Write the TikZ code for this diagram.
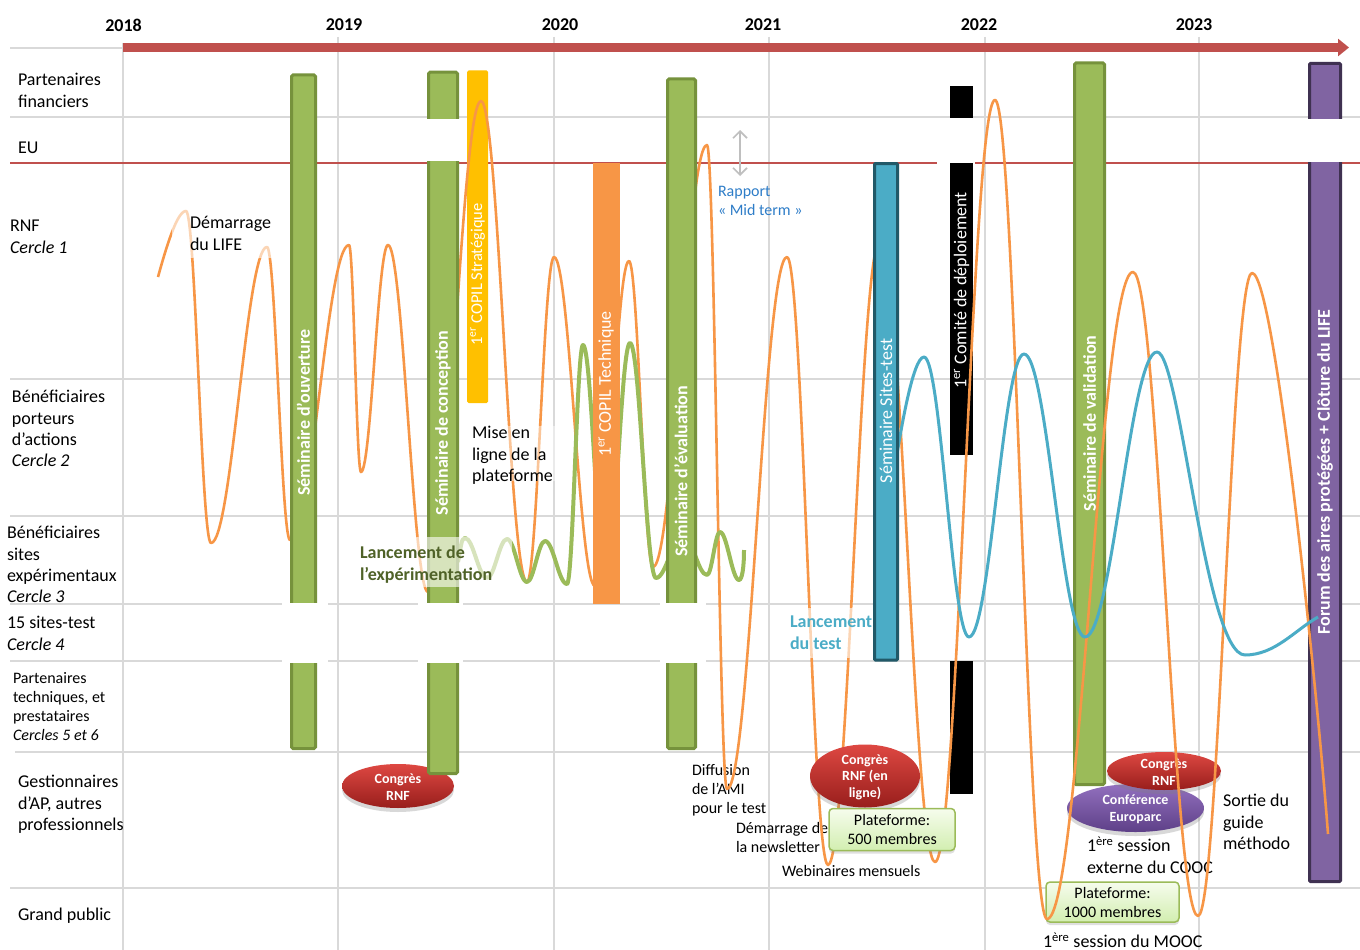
\documentclass[tikz,border=0pt]{standalone}
\usepackage{fontspec}
\setmainfont{Carlito}
\usetikzlibrary{arrows.meta,shadows}

\definecolor{gridgray}{RGB}{217,217,217}
\definecolor{axisred}{RGB}{192,80,77}
\definecolor{curveorange}{RGB}{247,150,70}
\definecolor{leafgreen}{RGB}{155,187,89}
\definecolor{leafdark}{RGB}{118,146,60}
\definecolor{goldbar}{RGB}{255,192,0}
\definecolor{tealbar}{RGB}{75,172,198}
\definecolor{tealdark}{RGB}{33,89,104}
\definecolor{violetbar}{RGB}{128,100,162}
\definecolor{violetdark}{RGB}{63,49,81}
\definecolor{midblue}{RGB}{46,125,200}
\definecolor{olivetext}{RGB}{79,98,40}
\definecolor{arrowgray}{RGB}{191,191,191}
\definecolor{balltop}{RGB}{222,72,66}
\definecolor{ballbottom}{RGB}{152,30,28}
\definecolor{violettop}{RGB}{146,112,190}
\definecolor{violetbottom}{RGB}{94,64,136}
\definecolor{platetop}{RGB}{246,252,237}
\definecolor{platebottom}{RGB}{210,238,176}

\tikzset{
  gridline/.style={draw=gridgray, line width=2pt},
  euline/.style={draw=axisred, line width=1.5pt},
  lbl/.style={anchor=north west, inner sep=0pt, outer sep=0pt, align=left},
  lblL/.style={font=\fontsize{18}{21.4}\selectfont},
  lblLB/.style={font=\fontsize{18}{21.4}\selectfont\bfseries},
  lblS/.style={font=\fontsize{16}{19.2}\selectfont},
  yearlbl/.style={font=\fontsize{18}{21}\selectfont\bfseries, inner sep=0pt},
  greenbar/.style={fill=leafgreen, draw=leafdark, line width=3pt, rounded corners=1.5pt},
  tealbox/.style={fill=tealbar, draw=tealdark, line width=3pt, rounded corners=1pt},
  violetbox/.style={fill=violetbar, draw=violetdark, line width=3pt, rounded corners=1pt},
  gapfill/.style={fill=white},
  haze/.style={fill=white, fill opacity=0.6},
  bartext/.style={rotate=90, text=white, inner sep=0pt, font=\fontsize{18}{21}\selectfont},
  bartextB/.style={rotate=90, text=white, inner sep=0pt, font=\fontsize{18}{21}\selectfont\bfseries},
  orangeline/.style={draw=curveorange, line width=2.6pt, line join=round},
  greenline/.style={draw=leafgreen, line width=4pt, line join=round},
  tealline/.style={draw=tealbar, line width=3pt, line join=round},
  redball/.style={top color=balltop, bottom color=ballbottom,
    drop shadow={shadow xshift=0pt, shadow yshift=-4pt, opacity=0.3}},
  violetball/.style={top color=violettop, bottom color=violetbottom,
    drop shadow={shadow xshift=0pt, shadow yshift=-4pt, opacity=0.3}},
  balltext/.style={text=white, font=\fontsize{14}{16.5}\selectfont\bfseries, align=center, inner sep=0pt},
  platebox/.style={draw=leafgreen, line width=1.5pt, rounded corners=4pt,
    top color=platetop, bottom color=platebottom, align=center, inner sep=0pt,
    font=\fontsize{16}{19}\selectfont,
    drop shadow={shadow xshift=0pt, shadow yshift=-3pt, opacity=0.25}},
  midarrow/.style={draw=arrowgray, line width=1.6pt,
    {Straight Barb[length=7pt,width=14pt]}-{Straight Barb[length=7pt,width=14pt]}},
}

\begin{document}
\begin{tikzpicture}[x=1pt,y=-1pt]
\useasboundingbox (0,0) rectangle (1360,950);
\fill[white] (0,0) rectangle (1360,950);

% ---- grid ----
\draw[gridline] (10,48) -- (123,48);
\foreach \yy in {117,379,516,604,661,888} \draw[gridline] (10,\yy) -- (1360,\yy);
\draw[gridline] (15,752) -- (1360,752);
\draw[gridline] (123,43) -- (123,950);
\foreach \xx in {338,554,769,985,1199} \draw[gridline] (\xx,37) -- (\xx,950);
\draw[euline] (10,163) -- (1360,163);

% ---- time axis ----
\coordinate (tlStart) at (123,47.5);
\coordinate (tlEnd) at (1349,47.5);
\draw[axisred, line width=9pt, -{Triangle[length=11pt,width=17pt]}] (tlStart) -- (tlEnd);

\node[yearlbl] (y2018) at (123.5,25) {2018};
\node[yearlbl] (y2019) at (344,25) {2019};
\node[yearlbl] (y2020) at (560,25) {2020};
\node[yearlbl] (y2021) at (763,25) {2021};
\node[yearlbl] (y2022) at (979,25) {2022};
\node[yearlbl] (y2023) at (1194,25) {2023};

% ---- row headings ----
\node[lbl,lblL] (rowFin) at (18,70.7) {\strut Partenaires\\financiers};
\node[lbl,lblL] (rowEU) at (18,138.7) {\strut EU};
\node[lbl,lblL] (rowRNF) at (10,216.7) {\strut RNF\\\textit{Cercle 1}};
\node[lbl,lblL] (rowC2) at (12,387.7) {\strut Bénéficiaires\\porteurs\\d’actions\\\textit{Cercle 2}};
\node[lbl,lblL] (rowC3) at (7,523.7) {\strut Bénéficiaires\\sites\\expérimentaux\\\textit{Cercle 3}};
\node[lbl,lblL] (rowC4) at (7,613.7) {\strut 15 sites-test\\\textit{Cercle 4}};
\node[lbl,lblS] (rowC56) at (13,669.8) {\strut Partenaires\\techniques, et\\prestataires\\\textit{Cercles 5 et 6}};
\node[lbl,lblL] (rowAP) at (18,772.7) {\strut Gestionnaires\\d’AP, autres\\professionnels};
\node[lbl,lblL] (rowGP) at (18,905.7) {\strut Grand public};

% ---- bars standing behind the curves ----
\fill[goldbar, rounded corners=1.5pt] (467,70.5) rectangle (488,403);
\node[bartext, font=\fontsize{16.5}{20}\selectfont] (tStrat) at (477.5,274.5) {1\textsuperscript{er} COPIL Stratégique};

\fill[gapfill] (937,119) rectangle (975,164.5);
\fill[black] (950,86) rectangle (973,118);
\fill[black] (950,163) rectangle (973,455);
\fill[black] (950,661) rectangle (973,794);
\node[bartext] (tDeploy) at (961.5,290.5) {1\textsuperscript{er} Comité de déploiement};

\draw[greenbar] (1074.5,63) rectangle (1104.5,784.5);
\node[bartextB] (tValid) at (1089.5,423.5) {Séminaire de validation};

\draw[violetbox] (1309.5,63.5) rectangle (1340.5,881.5);
\fill[gapfill] (1305,118.5) rectangle (1345,161.5);
\node[bartextB] (tForum) at (1325,472) {Forum des aires protégées + Clôture du LIFE};

% ---- ellipses and boxes lying under the curves ----
\path[violetball] (1135.5,808) ellipse [x radius=68.5, y radius=24];
\node[balltext] (europarc) at (1135.5,809) {Conférence\\Europarc};
\path[redball] (1164,771) ellipse [x radius=57, y radius=19];
\node[balltext] (cg3) at (1164,772) {Congrès\\RNF};
\node[platebox, minimum width=133pt, minimum height=40pt] (pf1000) at (1112.5,902) {Plateforme:\\1000 membres};

% ---- event captions ----
\node[lbl,lblS,text=midblue] (midterm) at (718,182.8) {\strut Rapport\\« Mid term »};
\node[lbl,lblS] (ami) at (692,761.8) {\strut Diffusion\\de l’AMI\\pour le test};
\node[lbl,lblS] (news) at (736,819.8) {\strut Démarrage de\\la newsletter};
\node[lbl,lblS] (webi) at (782,862.8) {\strut Webinaires mensuels};
\node[lbl,lblL] (cooc) at (1087,836.7) {\strut 1\textsuperscript{ère} session\\externe du COOC};
\node[lbl,lblL] (guide) at (1223,791.7) {\strut Sortie du\\guide\\méthodo};
\node[lbl,lblL] (mooc) at (1043,932.7) {\strut 1\textsuperscript{ère} session du MOOC};

% ---- engagement curves ----
\draw[orangeline] (158,277) .. controls (166,248) and (177,211) .. (186,211)
  .. controls +(9.5,0) and +(-9.5,0) .. (211,543)
  .. controls +(21,0) and +(-21,0) .. (267,247)
  .. controls +(8.4,0) and +(-8.4,0) .. (290,540)
  .. controls +(22,0) and +(-22,0) .. (349,245)
  .. controls +(4.6,0) and +(-4.6,0) .. (361,472)
  .. controls +(10,0) and +(-10,0) .. (388,245)
  .. controls +(15,0) and +(-15,0) .. (428,592)
  .. controls +(20,0) and +(-20,0) .. (481,101)
  .. controls +(17.5,0) and +(-17.5,0) .. (527,582)
  .. controls +(10,0) and +(-10,0) .. (554,257)
  .. controls +(15.6,0) and +(-15.6,0) .. (595,586)
  .. controls +(13,0) and +(-13,0) .. (629,261)
  .. controls +(9,0) and +(-9,0) .. (653,567)
  .. controls +(20.5,0) and +(-20.5,0) .. (707,145)
  .. controls +(7.6,0) and +(-7.6,0) .. (727,789)
  .. controls +(23,0) and +(-23,0) .. (787,257)
  .. controls +(15.6,0) and +(-15.6,0) .. (828,865)
  .. controls +(19.8,0) and +(-19.8,0) .. (880,240)
  .. controls +(21,0) and +(-21,0) .. (935,862)
  .. controls +(23,0) and +(-23,0) .. (995,100)
  .. controls +(20,0) and +(-20,0) .. (1047,919)
  .. controls +(33,0) and +(-33,0) .. (1133,272)
  .. controls +(25,0) and +(-25,0) .. (1198,916)
  .. controls +(20.5,0) and +(-20.5,0) .. (1252,273)
  .. controls (1275,273) and (1318,700) .. (1328,834);

\draw[greenline] (458,562) .. controls (461,548) and (461,538) .. (465,538)
  .. controls +(8.4,0) and +(-8.4,0) .. (487,578)
  .. controls +(7.6,0) and +(-7.6,0) .. (507,539)
  .. controls +(7.6,0) and +(-7.6,0) .. (527,582)
  .. controls +(6.8,0) and +(-6.8,0) .. (545,541)
  .. controls +(8.4,0) and +(-8.4,0) .. (567,584)
  .. controls +(6,0) and +(-6,0) .. (583,345)
  .. controls +(8.7,0) and +(-8.7,0) .. (606,580)
  .. controls +(9,0) and +(-9,0) .. (630,343)
  .. controls +(10,0) and +(-10,0) .. (656,578)
  .. controls +(10,0) and +(-10,0) .. (683,535)
  .. controls +(9,0) and +(-9,0) .. (707,575)
  .. controls +(5,0) and +(-5,0) .. (720,532)
  .. controls +(7,0) and +(-7,0) .. (739,580)
  .. controls (742,580) and (744,568) .. (744,550);

\draw[tealline] (890,500) .. controls (900,430) and (913,357) .. (924,357)
  .. controls +(17,0) and +(-17,0) .. (969,637)
  .. controls +(21,0) and +(-21,0) .. (1024,354)
  .. controls +(23,0) and +(-23,0) .. (1085,637)
  .. controls +(27,0) and +(-27,0) .. (1157,352)
  .. controls +(23,0) and +(-40,0) .. (1245,655)
  .. controls +(30,0) and (1295,630) .. (1318,617);

% ---- bars standing in front of the curves ----
\path[redball] (398,786) ellipse [x radius=56, y radius=22];
\node[balltext] (cg1) at (398,787) {Congrès\\RNF};

\draw[greenbar] (291.5,75) rectangle (315.5,748.5);
\draw[greenbar] (428.5,72.2) rectangle (457.5,773.5);
\fill[curveorange] (592.5,163) rectangle (620,604);
\draw[greenbar] (667.5,79) rectangle (695.5,748.5);
\draw[tealbox] (874.5,163.5) rectangle (897.5,660);

\fill[gapfill] (420,118.5) rectangle (466,161);
\fill[gapfill] (282,602.5) rectangle (328,662.5);
\fill[gapfill] (418,602.5) rectangle (463,662.5);
\fill[gapfill] (660,602.5) rectangle (706,662.5);

\node[bartextB] (tOpen) at (303.5,412.5) {Séminaire d’ouverture};
\node[bartextB] (tDesign) at (443,423) {Séminaire de conception};
\node[bartext] (tTech) at (606,384) {1\textsuperscript{er} COPIL Technique};
\node[bartextB] (tEval) at (681,471.5) {Séminaire d’évaluation};
\node[bartext] (tSites) at (886,411) {Séminaire Sites-test};

% ---- captions on a light veil ----
\fill[haze] (172,205) rectangle (278,258);
\node[lbl,lblL] (life) at (190,213.7) {\strut Démarrage\\du LIFE};
\fill[haze, fill opacity=0.45] (460,426) rectangle (566,481);
\node[lbl,lblL] (online) at (472,423.7) {\strut Mise en\\ligne de la\\plateforme};
\fill[haze] (345,537) rectangle (512,587);
\node[lbl,lblLB,text=olivetext] (xplaunch) at (360,543.7) {\strut Lancement de\\l’expérimentation};
\fill[haze] (775,608) rectangle (873,658);
\node[lbl,lblLB,text=tealbar] (testlaunch) at (790,612.7) {\strut Lancement\\du test};

% ---- items above everything ----
\path[redball] (865,776) ellipse [x radius=55, y radius=31.5];
\node[balltext] (cg2) at (865,777) {Congrès\\RNF (en\\ligne)};
\node[platebox, minimum width=126pt, minimum height=42pt] (pf500) at (892,829.5) {Plateforme:\\500 membres};

\coordinate (mtTop) at (740,130);
\coordinate (mtBot) at (740,176);
\draw[midarrow] (mtTop) -- (mtBot);
\end{tikzpicture}
\end{document}
